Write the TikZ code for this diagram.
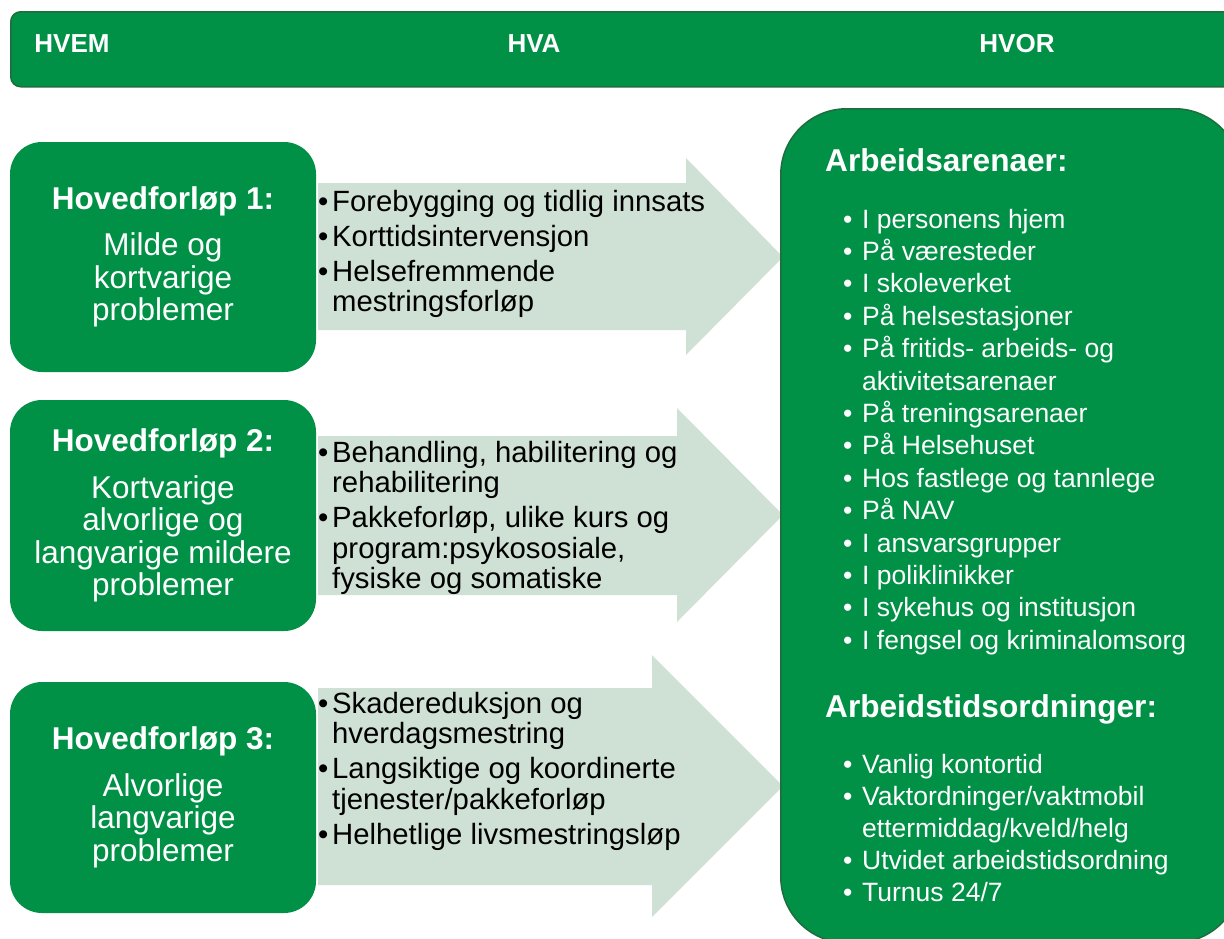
\documentclass[tikz,border=0pt]{standalone}
\usepackage{fontspec}
\setmainfont{Liberation Sans}
\definecolor{grn}{HTML}{009146}
\definecolor{grnline}{HTML}{1D6E3E}
\definecolor{pale}{HTML}{CFE0D5}
\newcommand{\abul}{\makebox[14pt][l]{\textbullet}}
\newcommand{\rbul}{\makebox[19pt][l]{\textbullet}}
\newcommand{\rind}{\hspace*{19pt}}
\newcommand{\aind}{\hspace*{14pt}}
\tikzset{
 hdrbox/.style={draw=grnline, line width=1.5pt, fill=grn, rounded corners=10pt, anchor=north west, inner sep=0pt},
 lbox/.style={fill=grn, rounded corners=32pt, minimum width=306pt, minimum height=230pt, text=white, align=center, inner sep=0pt, font=\fontsize{31.5}{32.5}\selectfont},
 rbox/.style={draw=grnline, line width=1.5pt, fill=grn, rounded corners=66pt, anchor=north west, inner sep=0pt},
 hdrtext/.style={anchor=base, text=white, font=\bfseries\fontsize{26}{30}\selectfont, inner sep=0pt},
 arrowtext/.style={anchor=base west, align=left, inner sep=0pt, font=\fontsize{29.3}{30.5}\selectfont},
 listtext/.style={anchor=base west, align=left, inner sep=0pt, text=white},
 listhead/.style={anchor=base west, inner sep=0pt, text=white, font=\bfseries\fontsize{31.6}{36}\selectfont},
 arrowshape/.style={fill=pale}
}
\begin{document}
\begin{tikzpicture}[x=1pt,y=-1pt]
\useasboundingbox (0,0) rectangle (1224,938);
% header bar
\node[hdrbox, minimum width=1232pt, minimum height=75pt] (header) at (10,11) {};
\node[hdrtext] (hvem) at (72,52) {HVEM};
\node[hdrtext] (hva) at (534,52) {HVA};
\node[hdrtext] (hvor) at (1017,52) {HVOR};
% arrows
\fill[arrowshape] (318,183) -- (686,183) -- (686,158) -- (783,257) -- (686,355) -- (686,330) -- (318,330) -- cycle;
\fill[arrowshape] (318,436) -- (677,436) -- (677,408) -- (783,515) -- (677,622) -- (677,595) -- (318,595) -- cycle;
\fill[arrowshape] (318,688) -- (652,688) -- (652,655) -- (783,786) -- (652,917) -- (652,885) -- (318,885) -- cycle;
% left boxes
\node[lbox] (b1) at (163,257) {\textbf{Hovedforløp 1:}\\[14pt]Milde og\\kortvarige\\problemer};
\node[lbox, minimum height=231pt] (b2) at (163,515.5) {\textbf{Hovedforløp 2:}\\[14pt]Kortvarige\\alvorlige og\\langvarige mildere\\problemer};
\node[lbox, minimum height=231pt] (b3) at (163,797.5) {\textbf{Hovedforløp 3:}\\[14pt]Alvorlige\\langvarige\\problemer};
% arrow texts (anchored at the baseline of the last line)
\node[arrowtext] (t1) at (318,311.5) {\abul Forebygging og tidlig innsats\\[4.5pt]\abul Korttidsintervensjon\\[4.5pt]\abul Helsefremmende\\\aind mestringsforløp};
\node[arrowtext] (t2) at (318,588.5) {\abul Behandling, habilitering og\\\aind rehabilitering\\[4.5pt]\abul Pakkeforløp, ulike kurs og\\\aind program:psykososiale,\\\aind fysiske og somatiske};
\node[arrowtext] (t3) at (318,844) {\abul Skadereduksjon og\\\aind hverdagsmestring\\[4.5pt]\abul Langsiktige og koordinerte\\\aind tjenester/pakkeforløp\\[4.5pt]\abul Helhetlige livsmestringsløp};
% right box
\node[rbox, minimum width=460pt, minimum height=834pt] (hvorbox) at (780,108) {};
\node[listhead] (h1) at (825,171) {Arbeidsarenaer:};
\node[listtext, font=\fontsize{26.5}{32.4}\selectfont] (l1) at (843,649.2) {\rbul I personens hjem\\\rbul På væresteder\\\rbul I skoleverket\\\rbul På helsestasjoner\\\rbul På fritids- arbeids- og\\\rind aktivitetsarenaer\\\rbul På treningsarenaer\\\rbul På Helsehuset\\\rbul Hos fastlege og tannlege\\\rbul På NAV\\\rbul I ansvarsgrupper\\\rbul I poliklinikker\\\rbul I sykehus og institusjon\\\rbul I fengsel og kriminalomsorg};
\node[listhead] (h2) at (825,717) {Arbeidstidsordninger:};
\node[listtext, font=\fontsize{26.5}{32}\selectfont] (l2) at (843,901) {\rbul Vanlig kontortid\\\rbul Vaktordninger/vaktmobil\\\rind ettermiddag/kveld/helg\\\rbul Utvidet arbeidstidsordning\\\rbul Turnus 24/7};
\end{tikzpicture}
\end{document}
